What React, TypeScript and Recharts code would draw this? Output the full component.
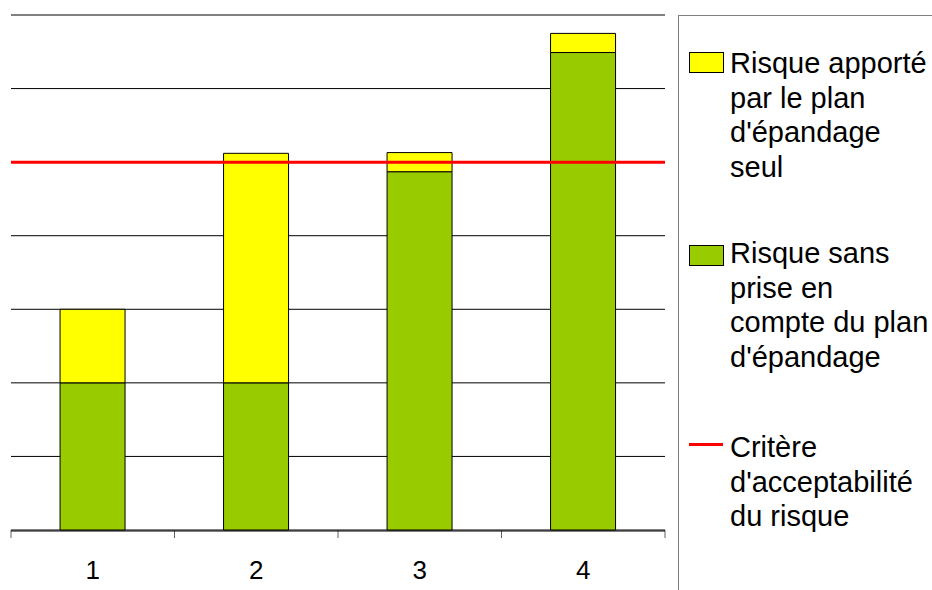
import { ComposedChart, Bar, XAxis, YAxis, CartesianGrid, ReferenceLine } from 'recharts';

const categories = ['1', '2', '3', '4'];
const risqueSans = [2, 2, 4.87, 6.49];
const risquePlan = [1, 3.12, 0.26, 0.26];
const critere = 5;
const yTicks = [0, 1, 2, 3, 4, 5, 6, 7];
const edgeTicks = [0, 1, 2, 3, 4];

const data = categories.map((c, i) => ({
  name: c,
  pos: i + 0.5,
  sans: risqueSans[i],
  plan: risquePlan[i],
}));

const font = '"Liberation Sans", Arial, sans-serif';

const legendText = {
  position: 'absolute' as const,
  left: 730,
  fontFamily: font,
  fontSize: 29,
  lineHeight: '34.5px',
  color: '#000',
  whiteSpace: 'nowrap' as const,
};

export default function App() {
  return (
    <div style={{ position: 'fixed', left: 0, top: 0, width: 932, height: 590, background: '#fff' }}>
      <ComposedChart
        width={670}
        height={590}
        data={data}
        margin={{ top: 15, right: 5, left: 11, bottom: 0 }}
        barCategoryGap="30%"
      >
        <CartesianGrid xAxisId="cat" vertical={false} stroke="#000" strokeOpacity={1} />
        <XAxis
          xAxisId="aEdge"
          dataKey="pos"
          type="number"
          domain={[0, 4]}
          ticks={edgeTicks}
          allowDataOverflow
          height={1}
          tick={() => <g />}
          axisLine={false}
          tickLine={{ stroke: '#606060' }}
          tickSize={8}
        />
        <XAxis
          xAxisId="cat"
          dataKey="name"
          height={59}
          axisLine={{ stroke: '#000' }}
          tickLine={false}
          tickSize={0}
          tickMargin={30}
          fontSize={26}
          tick={{ fontSize: 26, fill: '#000', fontFamily: font }}
        />
        <YAxis hide domain={[0, 7]} ticks={yTicks} />
        <Bar xAxisId="cat" dataKey="sans" stackId="a" fill="#99CC00" stroke="#000" strokeWidth={1} isAnimationActive={false} />
        <Bar xAxisId="cat" dataKey="plan" stackId="a" fill="#FFFF00" stroke="#000" strokeWidth={1} isAnimationActive={false} />
        <ReferenceLine xAxisId="cat" y={7} stroke="#808080" strokeWidth={1.5} />
        <ReferenceLine xAxisId="cat" y={critere} stroke="#FF0000" strokeWidth={3} />
      </ComposedChart>

      <div
        style={{
          position: 'absolute',
          left: 678,
          top: 15,
          width: 260,
          height: 580,
          borderLeft: '1.5px solid #808080',
          borderTop: '1.5px solid #808080',
        }}
      />
      <div style={{ position: 'absolute', left: 689, top: 52, width: 33, height: 19, background: '#FFFF00', border: '1px solid #000' }} />
      <div style={{ ...legendText, top: 46 }}>
        Risque apporté<br />par le plan<br />d'épandage<br />seul
      </div>
      <div style={{ position: 'absolute', left: 689, top: 245, width: 33, height: 19, background: '#99CC00', border: '1px solid #000' }} />
      <div style={{ ...legendText, top: 236 }}>
        Risque sans<br />prise en<br />compte du plan<br />d'épandage
      </div>
      <div style={{ position: 'absolute', left: 689, top: 443, width: 34, height: 3, background: '#FF0000' }} />
      <div style={{ ...legendText, top: 430 }}>
        Critère<br />d'acceptabilité<br />du risque
      </div>
    </div>
  );
}
